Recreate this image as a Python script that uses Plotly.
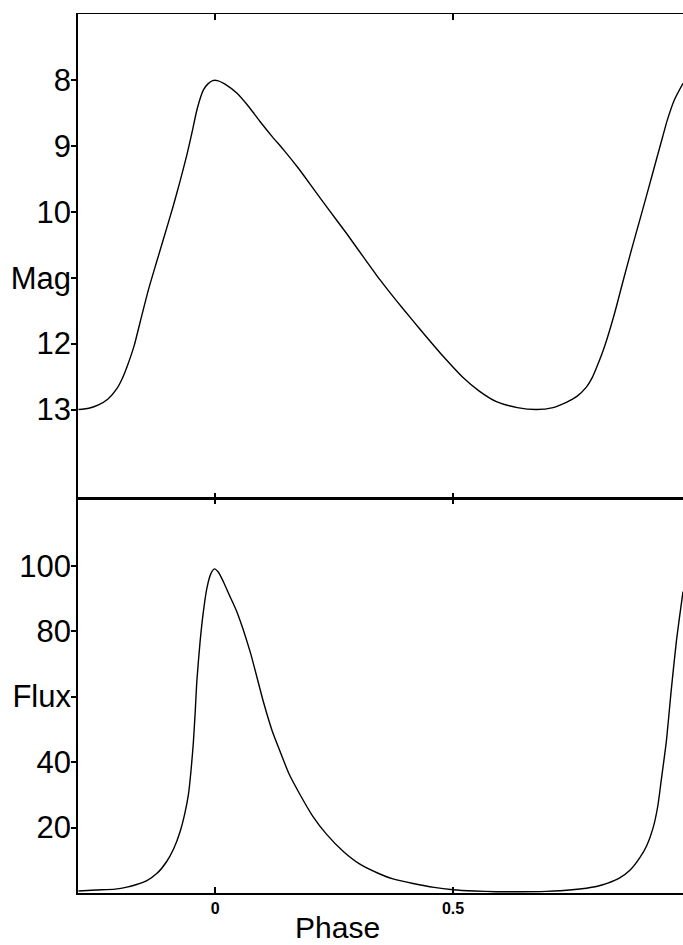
import plotly.graph_objects as go
from plotly.subplots import make_subplots

# Magnitude light curve (phase, mag)
mag_phase = [-0.287, -0.265, -0.245, -0.225, -0.206, -0.195, -0.185, -0.170, -0.157,
             -0.140, -0.122, -0.105, -0.0875, -0.073, -0.0594, -0.048, -0.0384, -0.030,
             -0.0245, -0.015, -0.005, 0.005, 0.020, 0.0455, 0.070, 0.0944, 0.120,
             0.1427, 0.175, 0.2056, 0.240, 0.2763, 0.310, 0.3462, 0.380, 0.4142,
             0.4442, 0.480, 0.5203, 0.555, 0.5910, 0.635, 0.675, 0.710, 0.738, 0.760,
             0.780, 0.792, 0.801, 0.812, 0.822, 0.840, 0.856, 0.875, 0.892, 0.910,
             0.927, 0.940, 0.950, 0.965, 0.983]
mag_values = [13.00, 12.98, 12.93, 12.84, 12.68, 12.53, 12.35, 12.03, 11.66,
              11.18, 10.74, 10.33, 9.90, 9.52, 9.14, 8.78, 8.46, 8.25,
              8.15, 8.06, 8.01, 8.01, 8.06, 8.20, 8.40, 8.63, 8.86,
              9.05, 9.34, 9.64, 9.98, 10.33, 10.67, 11.03, 11.34, 11.64,
              11.90, 12.20, 12.51, 12.72, 12.88, 12.97, 13.00, 12.97, 12.89, 12.80,
              12.66, 12.52, 12.37, 12.17, 11.96, 11.52, 11.08, 10.57, 10.13, 9.66,
              9.21, 8.87, 8.61, 8.30, 8.05]

# Flux light curve (phase, flux)
flux_phase = [-0.287, -0.25, -0.21, -0.1853, -0.165, -0.1433, -0.122, -0.1013, -0.087,
              -0.0734, -0.064, -0.0560, -0.0505, -0.0455, -0.0415, -0.0384, -0.0315,
              -0.025, -0.0174, -0.009, -0.0015, 0.007, 0.0174, 0.030, 0.0455, 0.0734,
              0.1013, 0.120, 0.1364, 0.155, 0.1783, 0.205, 0.2344, 0.270, 0.3042,
              0.346, 0.3735, 0.416, 0.460, 0.500, 0.545, 0.591, 0.640, 0.696, 0.750,
              0.801, 0.825, 0.850, 0.872, 0.892, 0.907, 0.920, 0.930, 0.937, 0.948,
              0.958, 0.969, 0.983]
flux_values = [0.6, 0.9, 1.2, 1.8, 2.6, 3.8, 6.0, 9.7, 13.5,
               18.8, 24.0, 30.1, 37.5, 46.3, 56.0, 64.6, 76.8,
               85.5, 93.0, 97.5, 99.0, 98.0, 95.1, 91.0, 86.0, 73.8,
               58.5, 49.5, 43.3, 36.5, 30.1, 23.5, 17.9, 12.6, 8.8,
               5.8, 4.3, 2.9, 1.7, 1.0, 0.6, 0.4, 0.4, 0.5, 1.0,
               2.0, 3.0, 4.6, 7.0, 10.7, 14.5, 19.8, 26.5, 34.1, 46.3,
               61.5, 76.8, 92.1]

mag_ticks = [8, 9, 10, 11, 12, 13]
mag_ticktext = ["8", "9", "10", "Mag", "12", "13"]
flux_ticks = [20, 40, 60, 80, 100]
flux_ticktext = ["20", "40", "Flux", "80", "100"]
phase_ticks = [0, 0.5]
phase_ticktext = ["0", "0.5"]

fig = make_subplots(rows=2, cols=1, shared_xaxes=False, vertical_spacing=0,
                    row_heights=[484, 394])

line_style = dict(color="black", width=1.4, shape="spline", smoothing=0.6)
fig.add_trace(go.Scatter(x=mag_phase, y=mag_values, mode="lines", line=line_style,
                         showlegend=False, hoverinfo="skip"), row=1, col=1)
fig.add_trace(go.Scatter(x=flux_phase, y=flux_values, mode="lines", line=line_style,
                         showlegend=False, hoverinfo="skip"), row=2, col=1)

xrange = [-0.288, 0.983]
tick_font = dict(family="Liberation Sans, Arial, sans-serif", size=31, color="black")

fig.update_xaxes(range=xrange, showgrid=False, zeroline=False, showline=True,
                 linecolor="black", linewidth=1.0, tickvals=phase_ticks,
                 ticks="inside", ticklen=6, tickwidth=1.5, tickcolor="black",
                 mirror="ticks", showticklabels=False, row=1, col=1)
fig.update_xaxes(range=xrange, showgrid=False, zeroline=False, showline=True,
                 linecolor="black", linewidth=1.8, tickvals=phase_ticks,
                 ticktext=phase_ticktext, ticks="inside", ticklen=6, tickwidth=1.5,
                 tickcolor="black", mirror="ticks",
                 tickfont=dict(family="Liberation Sans, Arial, sans-serif", size=16,
                               color="black", weight="bold"), row=2, col=1)

fig.update_yaxes(range=[14.35, 7.0], showgrid=False, zeroline=False, showline=True,
                 linecolor="black", linewidth=1.6, tickvals=mag_ticks,
                 ticktext=mag_ticktext, ticks="outside", ticklen=5, tickwidth=1.5,
                 tickcolor="black", tickfont=tick_font, ticklabelstandoff=-6,
                 row=1, col=1)
fig.update_yaxes(range=[0, 120.5], showgrid=False, zeroline=False, showline=True,
                 linecolor="black", linewidth=1.6, tickvals=flux_ticks,
                 ticktext=flux_ticktext, ticks="outside", ticklen=5, tickwidth=1.5,
                 tickcolor="black", tickfont=tick_font, ticklabelstandoff=-6,
                 row=2, col=1)

fig.add_annotation(text="Phase", xref="paper", yref="paper",
                   x=(337.5 - 78) / 605, y=-0.0592, xanchor="center", yanchor="bottom",
                   showarrow=False, borderpad=0,
                   font=dict(family="Liberation Sans, Arial, sans-serif", size=30,
                             color="black"))

fig.update_layout(width=683, height=945, margin=dict(l=78, r=0, t=14, b=52),
                  paper_bgcolor="white", plot_bgcolor="white")

fig.write_html("out.html", config={"displayModeBar": False},
               post_script="document.body.style.margin='0';document.body.style.overflow='hidden';")
